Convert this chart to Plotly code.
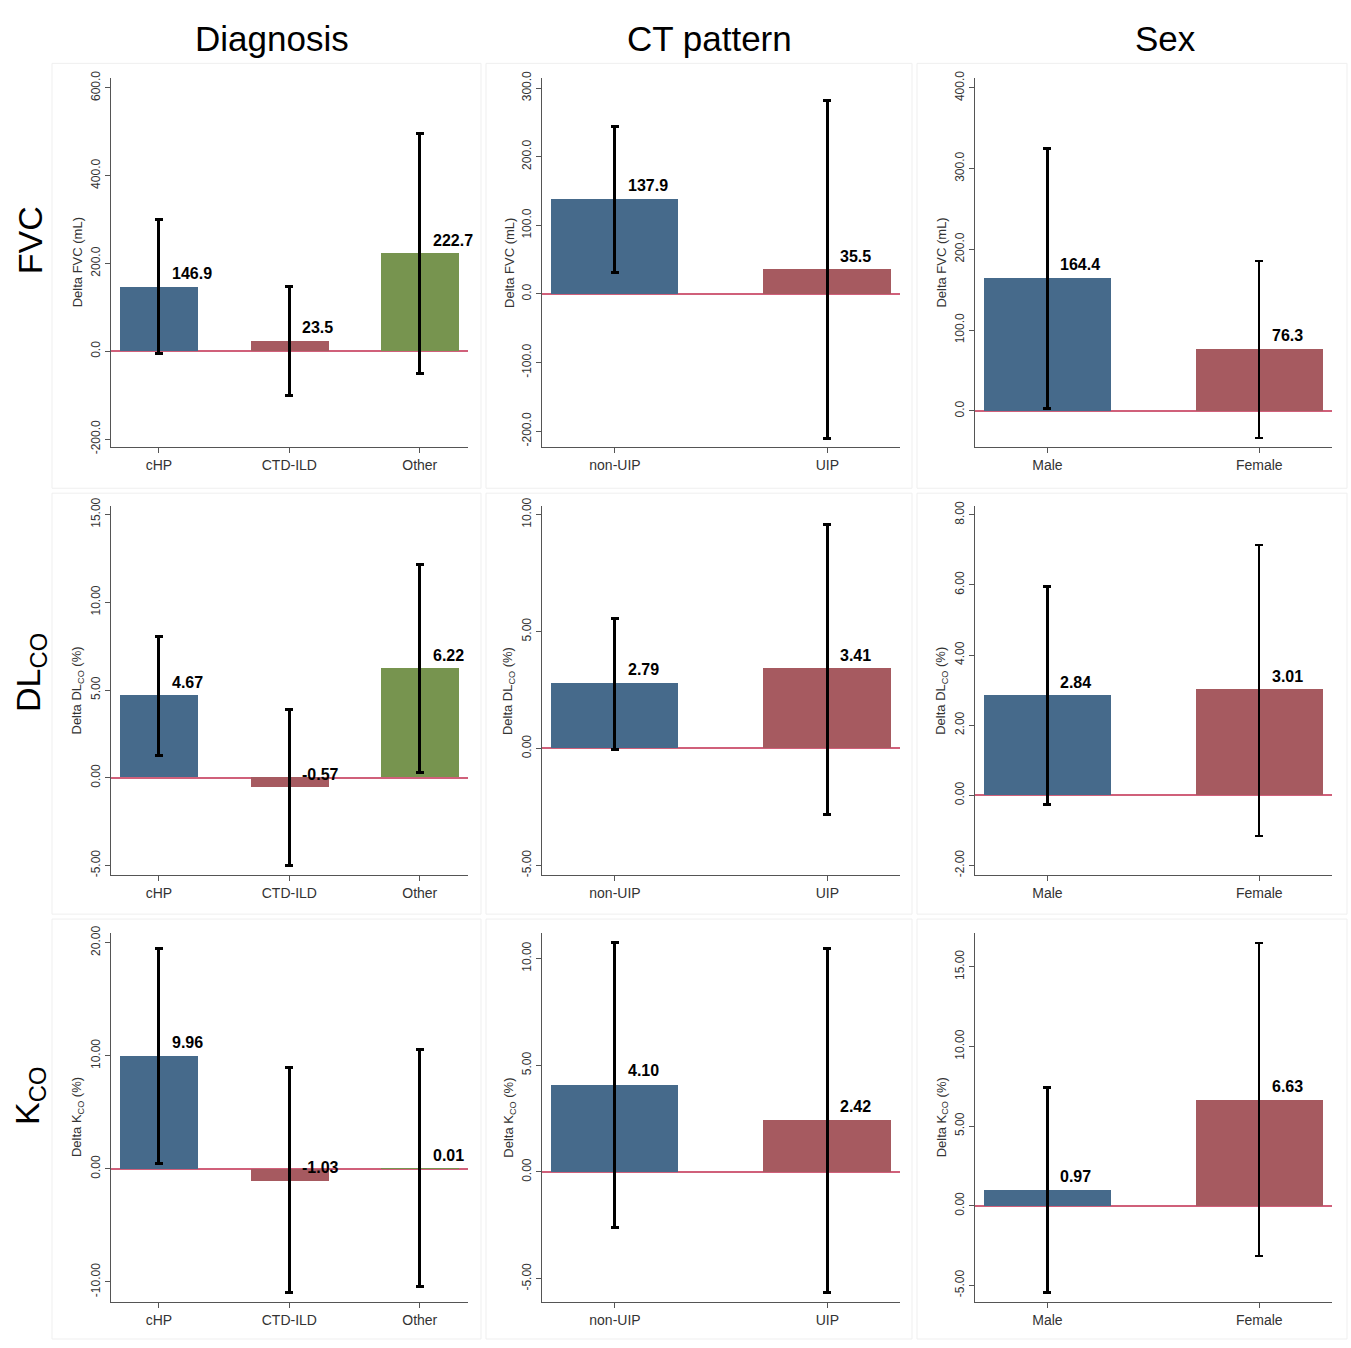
import plotly.graph_objects as go

W, H = 1351, 1348

# ---------------- data ----------------
diag_cats = ["cHP", "CTD-ILD", "Other"]
ct_cats = ["non-UIP", "UIP"]
sex_cats = ["Male", "Female"]

col_titles = ["Diagnosis", "CT pattern", "Sex"]
row_titles = ["FVC", "DL<sub>CO</sub>", "K<sub>CO</sub>"]
y_titles = ["Delta FVC (mL)", "Delta DL<sub>CO</sub> (%)", "Delta K<sub>CO</sub> (%)"]

fvc_diag_mean = [146.9, 23.5, 222.7]
fvc_diag_lo = [-5.0, -100.0, -50.0]
fvc_diag_hi = [300.0, 148.0, 495.0]

fvc_ct_mean = [137.9, 35.5]
fvc_ct_lo = [31.0, -210.0]
fvc_ct_hi = [244.0, 282.0]

fvc_sex_mean = [164.4, 76.3]
fvc_sex_lo = [3.3, -33.4]
fvc_sex_hi = [324.5, 185.8]

dlco_diag_mean = [4.67, -0.57, 6.22]
dlco_diag_lo = [1.27, -4.98, 0.28]
dlco_diag_hi = [8.03, 3.89, 12.17]

dlco_ct_mean = [2.79, 3.41]
dlco_ct_lo = [-0.03, -2.82]
dlco_ct_hi = [5.56, 9.57]

dlco_sex_mean = [2.84, 3.01]
dlco_sex_lo = [-0.27, -1.15]
dlco_sex_hi = [5.94, 7.14]

kco_diag_mean = [9.96, -1.03, 0.01]
kco_diag_lo = [0.5, -10.95, -10.43]
kco_diag_hi = [19.49, 8.94, 10.55]

kco_ct_mean = [4.10, 2.42]
kco_ct_lo = [-2.58, -5.66]
kco_ct_hi = [10.73, 10.46]

kco_sex_mean = [0.97, 6.63]
kco_sex_lo = [-5.46, -3.18]
kco_sex_hi = [7.4, 16.49]

fvc_diag_ticks = [-200, 0, 200, 400, 600]
fvc_ct_ticks = [-200, -100, 0, 100, 200, 300]
fvc_sex_ticks = [0, 100, 200, 300, 400]
dlco_diag_ticks = [-5, 0, 5, 10, 15]
dlco_ct_ticks = [-5, 0, 5, 10]
dlco_sex_ticks = [-2, 0, 2, 4, 6, 8]
kco_diag_ticks = [-10, 0, 10, 20]
kco_ct_ticks = [-5, 0, 5, 10]
kco_sex_ticks = [-5, 0, 5, 10, 15]

# ---------------- styles ----------------
BLUE = "#466a8b"
RED = "#a65a60"
GREEN = "#77944f"
cat_colors = {3: [BLUE, RED, GREEN], 2: [BLUE, RED]}
ZERO = "#d0607a"
AXC = "#555555"
FONT = "Liberation Sans, Arial, sans-serif"

# pixel geometry of plot areas
col_px = [(110.7, 468.0), (542.3, 900.0), (975.0, 1331.7)]
row_px = [(70.0, 443.3), (503.3, 876.7), (935.0, 1308.3)]
y_ranges = [
    [(-218, 622), (-223, 314.4), (-44.8, 412)],
    [(-5.56, 15.47), (-5.42, 10.35), (-2.28, 8.24)],
    [(-11.75, 20.87), (-6.08, 11.2), (-6.03, 17.13)],
]
x_ranges = {3: (-0.37, 2.37), 2: (-0.342, 1.342)}

panels = [
    [(diag_cats, fvc_diag_mean, fvc_diag_lo, fvc_diag_hi, fvc_diag_ticks, 1),
     (ct_cats, fvc_ct_mean, fvc_ct_lo, fvc_ct_hi, fvc_ct_ticks, 1),
     (sex_cats, fvc_sex_mean, fvc_sex_lo, fvc_sex_hi, fvc_sex_ticks, 1)],
    [(diag_cats, dlco_diag_mean, dlco_diag_lo, dlco_diag_hi, dlco_diag_ticks, 2),
     (ct_cats, dlco_ct_mean, dlco_ct_lo, dlco_ct_hi, dlco_ct_ticks, 2),
     (sex_cats, dlco_sex_mean, dlco_sex_lo, dlco_sex_hi, dlco_sex_ticks, 2)],
    [(diag_cats, kco_diag_mean, kco_diag_lo, kco_diag_hi, kco_diag_ticks, 2),
     (ct_cats, kco_ct_mean, kco_ct_lo, kco_ct_hi, kco_ct_ticks, 2),
     (sex_cats, kco_sex_mean, kco_sex_lo, kco_sex_hi, kco_sex_ticks, 2)],
]

fig = go.Figure()
annotations = []
shapes = []
layout_axes = {}

for r in range(3):
    for c in range(3):
        idx = r * 3 + c + 1
        sfx = "" if idx == 1 else str(idx)
        cats, mean, lo, hi, ticks, dec = panels[r][c]
        n = len(cats)
        for k in range(n):
            thick = 2 if (c == 2 and k == 1) else 3
            fig.add_trace(go.Bar(
                x=[cats[k]], y=[mean[k]],
                xaxis="x" + sfx, yaxis="y" + sfx,
                marker=dict(color=cat_colors[n][k], line=dict(width=0)),
                width=0.6,
                error_y=dict(type="data", symmetric=False,
                             array=[hi[k] - mean[k]],
                             arrayminus=[mean[k] - lo[k]],
                             color="black", thickness=thick, width=4),
                showlegend=False, hoverinfo="skip",
            ))
            annotations.append(dict(
                x=cats[k], y=mean[k], xref="x" + sfx, yref="y" + sfx,
                text="<b>" + f"{mean[k]:.{dec}f}" + "</b>",
                showarrow=False, xanchor="left", yanchor="bottom",
                xshift=11, yshift=3,
                font=dict(family=FONT, size=16, color="black"),
            ))
        x0, x1 = col_px[c]
        ytop, ybot = row_px[r]
        layout_axes["xaxis" + sfx] = dict(
            domain=[x0 / W, x1 / W], anchor="y" + sfx,
            type="category", categoryorder="array", categoryarray=cats,
            range=list(x_ranges[n]),
            showline=True, linecolor=AXC, linewidth=1.2,
            ticks="outside", ticklen=5, tickcolor=AXC, tickwidth=1.2,
            tickfont=dict(family=FONT, size=14, color="#333333"),
            showgrid=False, zeroline=False, fixedrange=True,
        )
        layout_axes["yaxis" + sfx] = dict(
            domain=[1 - ybot / H, 1 - ytop / H], anchor="x" + sfx,
            range=list(y_ranges[r][c]),
            tickmode="array", tickvals=ticks,
            ticktext=[f"{t:.{dec}f}" for t in ticks],
            tickangle=-90,
            showline=True, linecolor=AXC, linewidth=1.2,
            ticks="outside", ticklen=5, tickcolor=AXC, tickwidth=1.2,
            tickfont=dict(family=FONT, size=12, color="#333333"),
            showgrid=False, zeroline=True, zerolinecolor=ZERO, zerolinewidth=1.5,
            fixedrange=True,
        )
        # y-axis title
        annotations.append(dict(
            x=(x0 - 33) / W, y=1 - (ytop + ybot) / 2 / H, xref="paper", yref="paper",
            text=y_titles[r], textangle=-90, showarrow=False,
            xanchor="center", yanchor="middle",
            font=dict(family=FONT, size=13, color="#333333"),
        ))

# panel frames
frame_x = [(52, 481), (486, 912), (917, 1347)]
frame_y = [(55, 485), (490, 916), (921, 1346)]
for fy in frame_y:
    for fx in frame_x:
        shapes.append(dict(type="rect", xref="paper", yref="paper",
                           x0=fx[0] / W, x1=fx[1] / W,
                           y0=1 - fy[1] / H, y1=1 - fy[0] / H,
                           line=dict(color="#efefef", width=1), layer="below"))

# column titles
col_title_x = [272, 709, 1165]
for t, xc in zip(col_titles, col_title_x):
    annotations.append(dict(x=xc / W, y=1 - 30 / H, xref="paper", yref="paper",
                            text=t, showarrow=False, xanchor="center", yanchor="middle",
                            font=dict(family=FONT, size=35, color="black")))
# row titles
row_title_y = [234, 672, 1100]
for t, yc in zip(row_titles, row_title_y):
    annotations.append(dict(x=30 / W, y=1 - yc / H, xref="paper", yref="paper",
                            text=t, textangle=-90, showarrow=False,
                            xanchor="center", yanchor="middle",
                            font=dict(family=FONT, size=34, color="black")))

fig.update_layout(
    width=W, height=H,
    margin=dict(l=0, r=0, t=0, b=0),
    paper_bgcolor="white", plot_bgcolor="white",
    barmode="overlay", bargap=0,
    annotations=annotations, shapes=shapes,
    font=dict(family=FONT),
    **layout_axes,
)

fig.write_html("out.html", config={"displayModeBar": False},
               post_script="document.body.style.margin='0';document.body.style.overflow='hidden';")
